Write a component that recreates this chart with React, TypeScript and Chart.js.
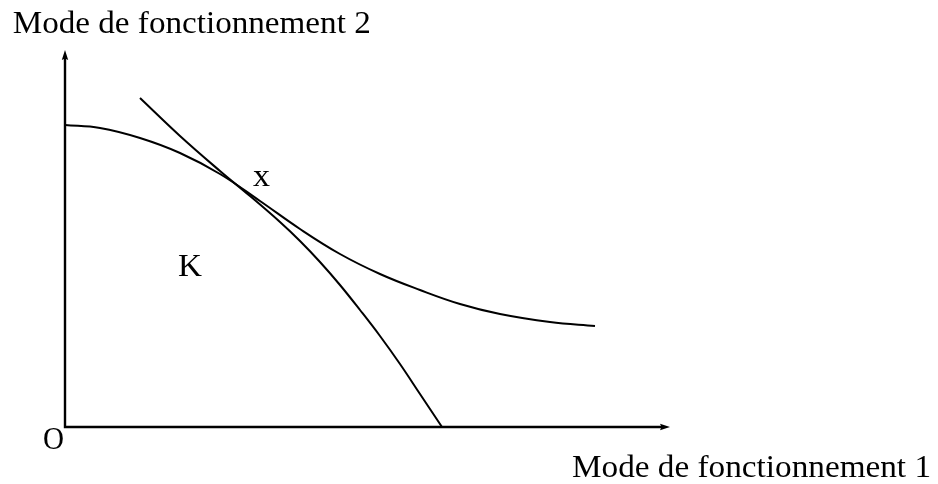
import React, { useEffect, useRef } from "react";
import { Chart, registerables } from "chart.js";

Chart.register(...registerables);

// Frontier curve (through the upper-left), in axis units (origin at O)
const curveAX = [0, 35, 75, 115, 155, 195, 235, 275, 315, 355, 395, 435, 485, 530];
const curveAY = [302, 299, 289, 274, 253, 226, 198, 173, 153, 137, 123, 113, 105, 101];

// Steeper curve crossing at x
const curveBX = [75, 115, 155, 185, 215, 235, 255, 275, 295, 315, 335, 355, 377];
const curveBY = [329, 291, 256, 231, 205, 186, 165, 142, 117, 91, 63, 33, 0];

const X_MAX = 605;
const Y_MAX = 377;

const yAxisTitle = "Mode de fonctionnement 2";
const xAxisTitle = "Mode de fonctionnement 1";
const pointLabels = ["x", "K", "O"];
const pointLabelX = [188, 113, -22];
const pointLabelY = [241, 151, -22];
const pointLabelW = [17, 24, 21];

const FAMILY = '"Liberation Serif", "Times New Roman", Times, serif';
const FONT = "31px " + FAMILY;

function toPts(xs: number[], ys: number[]) {
  return xs.map((x, i) => ({ x, y: ys[i] }));
}

function drawText(ctx: CanvasRenderingContext2D, text: string, x: number, y: number, w: number) {
  ctx.save();
  ctx.font = FONT;
  ctx.textBaseline = "alphabetic";
  ctx.textAlign = "left";
  const m = ctx.measureText(text).width;
  const s = w / m;
  ctx.translate(x, y);
  ctx.scale(s, 1);
  ctx.fillStyle = "#000";
  ctx.fillText(text, 0, 0);
  ctx.restore();
}

const axesPlugin = {
  id: "arrowAxes",
  afterDatasetsDraw(chart: any) {
    const ctx: CanvasRenderingContext2D = chart.ctx;
    const xs = chart.scales.x;
    const ys = chart.scales.y;
    const x0 = xs.getPixelForValue(0);
    const y0 = ys.getPixelForValue(0);
    const xEnd = xs.getPixelForValue(X_MAX);
    const yEnd = ys.getPixelForValue(Y_MAX);
    ctx.save();
    ctx.strokeStyle = "#000";
    ctx.fillStyle = "#000";
    ctx.lineWidth = 2.4;
    ctx.lineCap = "butt";
    ctx.beginPath();
    ctx.moveTo(x0, yEnd + 6);
    ctx.lineTo(x0, y0);
    ctx.lineTo(xEnd - 6, y0);
    ctx.stroke();
    ctx.beginPath();
    ctx.moveTo(x0, yEnd);
    ctx.lineTo(x0 - 3.2, yEnd + 10);
    ctx.lineTo(x0, yEnd + 8.5);
    ctx.lineTo(x0 + 3.2, yEnd + 10);
    ctx.closePath();
    ctx.fill();
    ctx.beginPath();
    ctx.moveTo(xEnd, y0);
    ctx.lineTo(xEnd - 10, y0 - 3.2);
    ctx.lineTo(xEnd - 8.5, y0);
    ctx.lineTo(xEnd - 10, y0 + 3.2);
    ctx.closePath();
    ctx.fill();
    ctx.restore();

    pointLabels.forEach((t, i) => {
      drawText(ctx, t, xs.getPixelForValue(pointLabelX[i]), ys.getPixelForValue(pointLabelY[i]), pointLabelW[i]);
    });
    drawText(ctx, yAxisTitle, 12.7, 33, 358);
    drawText(ctx, xAxisTitle, 572, 477, 359);
  },
};

export default function App() {
  const ref = useRef<HTMLCanvasElement | null>(null);
  useEffect(() => {
    let chart: Chart | null = null;
    let cancelled = false;
    const build = () => {
      if (cancelled || !ref.current) return;
      chart = new Chart(ref.current, {
        type: "scatter",
        data: {
          datasets: [
            {
              data: toPts(curveAX, curveAY),
              showLine: true,
              borderColor: "#000",
              borderWidth: 2,
              pointRadius: 0,
              tension: 0.4,
              clip: false,
            } as any,
            {
              data: toPts(curveBX, curveBY),
              showLine: true,
              borderColor: "#000",
              borderWidth: 2,
              pointRadius: 0,
              tension: 0.4,
              clip: false,
            } as any,
          ],
        },
        options: {
          animation: false,
          responsive: false,
          devicePixelRatio: 1,
          layout: { padding: { left: 65, right: 268, top: 50, bottom: 57 } },
          scales: {
            x: { type: "linear", min: 0, max: X_MAX, display: false },
            y: { type: "linear", min: 0, max: Y_MAX, display: false },
          },
          plugins: { legend: { display: false }, tooltip: { enabled: false }, title: { display: false } },
        },
        plugins: [axesPlugin],
      });
    };
    const fonts: any = (document as any).fonts;
    if (fonts && fonts.load) {
      fonts.load(FONT, "Mode K x O").then(build, build);
    } else {
      build();
    }
    return () => {
      cancelled = true;
      if (chart) chart.destroy();
    };
  }, []);
  return (
    <div style={{ position: "absolute", left: 0, top: 0, width: 938, height: 484, background: "#fff" }}>
      <span style={{ position: "absolute", left: -9999, fontFamily: FAMILY }}>Mode</span>
      <canvas ref={ref} width={938} height={484} style={{ width: 938, height: 484 }} />
    </div>
  );
}
